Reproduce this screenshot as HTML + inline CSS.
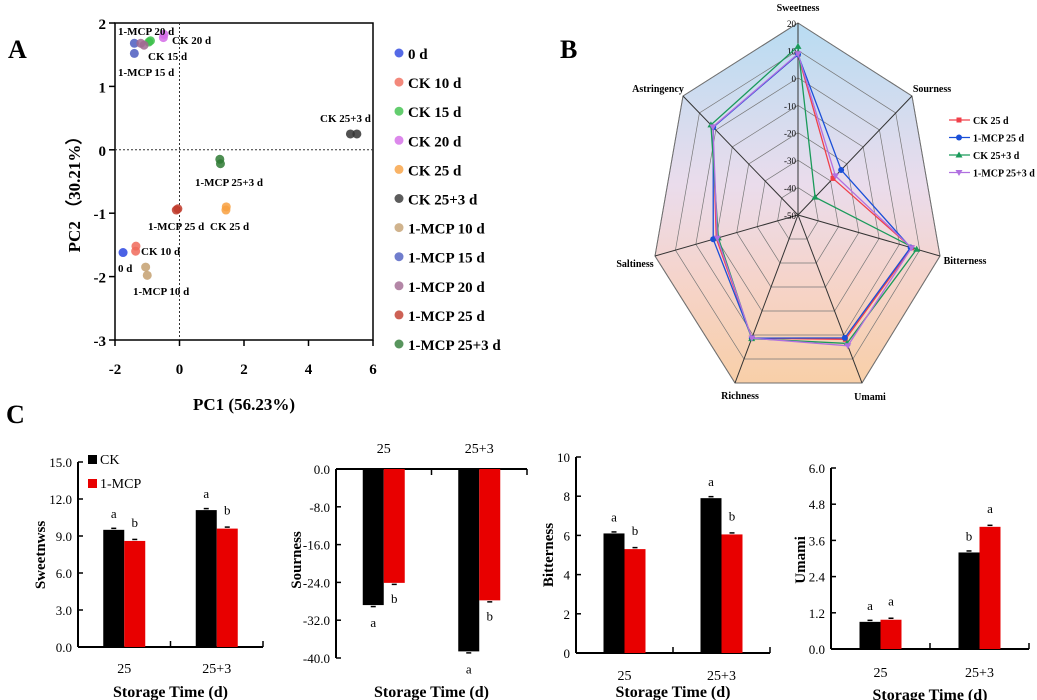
<!DOCTYPE html>
<html><head><meta charset="utf-8"><style>
html,body{margin:0;padding:0;background:#fff;}
svg{display:block;font-family:"Liberation Serif",serif;font-weight:bold;}
</style></head><body>
<svg id="fig" width="1037" height="700" viewBox="0 0 1037 700" xmlns="http://www.w3.org/2000/svg">
<defs>
<linearGradient id="radarBg" x1="0" y1="0" x2="0" y2="1">
<stop offset="0" stop-color="#b8dcf2"/><stop offset="0.45" stop-color="#eadcec"/><stop offset="0.7" stop-color="#f5d4cc"/><stop offset="1" stop-color="#f8cfa8"/>
</linearGradient>
</defs>
<g>
<text x="8" y="58" font-size="26">A</text>
<rect x="115" y="23" width="258" height="317" fill="none" stroke="#000" stroke-width="1.5"/>
<text x="244" y="410" font-size="17" text-anchor="middle">PC1 (56.23%)</text>
<text x="80" y="190" font-size="17" text-anchor="middle" transform="rotate(-90 80 190)">PC2 （30.21%）</text>
<g id="pcaAxes"></g>
<g id="pcaPts"></g>
<g font-size="11">
<text x="118" y="35">1-MCP 20 d</text><text x="172" y="44">CK 20 d</text>
<text x="148" y="60">CK 15 d</text><text x="118" y="76">1-MCP 15 d</text>
<text x="320" y="122">CK 25+3 d</text><text x="195" y="186">1-MCP 25+3 d</text>
<text x="148" y="230">1-MCP 25 d</text><text x="210" y="230">CK 25 d</text>
<text x="141" y="255">CK 10 d</text><text x="118" y="272">0 d</text>
<text x="133" y="295">1-MCP 10 d</text>
</g>
<g id="pcaLegend"></g>
</g>
<g>
<text x="560" y="58" font-size="26">B</text>
<g id="radar"></g>
</g>
<g>
<text x="6" y="423" font-size="26">C</text>
<g id="bars"></g>
</g>
</svg>
<script>
// ---------- PCA data ----------
const pcaGroups = ['0 d','CK 10 d','CK 15 d','CK 20 d','CK 25 d','CK 25+3 d','1-MCP 10 d','1-MCP 15 d','1-MCP 20 d','1-MCP 25 d','1-MCP 25+3 d'];
const pcaX = [[-1.75],[-1.35,-1.36],[-0.9,-0.95],[-0.5,-0.48],[1.45,1.44],[5.3,5.5],[-1.05,-1.0],[-1.4,-1.4],[-1.2,-1.1],[-0.1,-0.05],[1.25,1.27]];
const pcaY = [[-1.62],[-1.52,-1.6],[1.72,1.7],[1.77,1.82],[-0.9,-0.95],[0.25,0.25],[-1.85,-1.98],[1.52,1.68],[1.68,1.65],[-0.95,-0.93],[-0.15,-0.22]];
const pcaColors = ['#2a45e0','#f06a5a','#3cc04a','#d36ae6','#f8a040','#333333','#c4a070','#4c5cc0','#a06890','#c03a2a','#2e7a34'];
const pcaXTicks = [-2,0,2,4,6];
const pcaYTicks = [2,1,0,-1,-2,-3];

// ---------- Radar data ----------
const radarAxes = ['Sweetness','Sourness','Bitterness','Umami','Richness','Saltiness','Astringency'];
const radarSeries = ['CK 25 d','1-MCP 25 d','CK 25+3 d','1-MCP 25+3 d'];
const radarCK25 = [8.5,-28.5,6,1.8,1.3,-10,1.8];
const radarMCP25 = [8.5,-23.5,5.5,1.2,1.3,-8.5,1.6];
const radarCK253 = [11.5,-39.5,8.5,3.5,1.5,-11,3];
const radarMCP253 = [8.8,-27,6,4.5,1.3,-10.5,1.8];
const radarTicks = [20,10,0,-10,-20,-30,-40,-50];

// ---------- Bar data ----------
const barCategories = ['25','25+3'];
const sweetCK = [9.5,11.1], sweetMCP = [8.6,9.6];
const sourCK = [-28.8,-38.6], sourMCP = [-24.1,-27.8];
const bitterCK = [6.1,7.9], bitterMCP = [5.3,6.05];
const umamiCK = [0.9,3.2], umamiMCP = [0.97,4.05];
const sweetTicks = ['0.0','3.0','6.0','9.0','12.0','15.0'];
const sourTicks = ['0.0','-8.0','-16.0','-24.0','-32.0','-40.0'];
const bitterTicks = ['0','2','4','6','8','10'];
const umamiTicks = ['0.0','1.2','2.4','3.6','4.8','6.0'];
const sweetLetters = [['a','b'],['a','b']];
const sourLetters = [['a','b'],['a','b']];
const bitterLetters = [['a','b'],['a','b']];
const umamiLetters = [['a','a'],['b','a']];

const NS='http://www.w3.org/2000/svg';
function mk(tag,attrs,parent,text){const e=document.createElementNS(NS,tag);for(const k in attrs)e.setAttribute(k,attrs[k]);if(text!==undefined)e.textContent=text;parent.appendChild(e);return e;}

// PCA
(function(){
const ax=document.getElementById('pcaAxes'), pg=document.getElementById('pcaPts'), lg=document.getElementById('pcaLegend');
const sx=v=>115+(v+2)/8*258, sy=v=>23+(2-v)/5*317;
pcaXTicks.forEach(t=>{
 const l=mk('line',{x1:sx(t),x2:sx(t),y1:340,y2:346,stroke:'#000','stroke-width':1.5},ax);
 
 
 const tx=mk('text',{x:sx(t),y:374,'font-size':15,'text-anchor':'middle'},ax,String(t));
 
 
});
pcaYTicks.forEach(t=>{
 const l=mk('line',{x1:109,x2:115,y1:sy(t),y2:sy(t),stroke:'#000','stroke-width':1.5},ax);
 
 
 const tx=mk('text',{x:106,y:sy(t)+6,'font-size':15,'text-anchor':'end'},ax,String(t));
 
 
});
const vl=mk('line',{x1:sx(0),x2:sx(0),y1:23,y2:340,stroke:'#333','stroke-dasharray':'2,2'},ax);


const hl=mk('line',{x1:115,x2:373,y1:sy(0),y2:sy(0),stroke:'#333','stroke-dasharray':'2,2'},ax);


pcaGroups.forEach((g,i)=>{
 pcaX[i].forEach((x,j)=>{
  const c=mk('circle',{cx:sx(x),cy:sy(pcaY[i][j]),r:4.5,fill:pcaColors[i],'fill-opacity':0.85},pg);
  
  
 });
 const y=53+i*29.1;
 const d=mk('circle',{cx:399,cy:y,r:4.5,fill:pcaColors[i],'fill-opacity':0.8},lg);
 
 
 const t=mk('text',{x:408,y:y+6,'font-size':15},lg,g);
 
 
});
})();

// Radar
(function(){
const g=document.getElementById('radar');
const cx=798, cy=215;
const dirs=[[0,-192],[114,-119],[142,41],[64,168],[-63,168],[-143,41],[-115,-119]];
const frac=v=>(v+50)/70;
const poly=f=>dirs.map(d=>(cx+d[0]*f)+','+(cy+d[1]*f)).join(' ');
const bg=mk('polygon',{points:poly(1),fill:'url(#radarBg)',stroke:'#555','stroke-width':1},g);


radarTicks.forEach(t=>{
 if(t===-50)return;
 const r=mk('polygon',{points:poly(frac(t)),fill:'none',stroke:'#777','stroke-width':0.7},g);
 
 
});
dirs.forEach((d,i)=>{
 const s=mk('line',{x1:cx,y1:cy,x2:cx+d[0],y2:cy+d[1],stroke:'#333','stroke-width':1},g);
 
 
});
radarTicks.forEach(t=>{
 const tx=mk('text',{x:cx-2,y:cy-192*frac(t)+4,'font-size':9,'text-anchor':'end','font-weight':'normal'},g,String(t));
 
 
});
const lp=[[798,11,'middle'],[932,92,'middle'],[965,264,'middle'],[870,400,'middle'],[740,399,'middle'],[635,267,'middle'],[658,92,'middle']];
radarAxes.forEach((a,i)=>{
 const t=mk('text',{x:lp[i][0],y:lp[i][1],'font-size':10,'text-anchor':lp[i][2]},g,a);
 
 
});
const sets=[radarCK25,radarMCP25,radarCK253,radarMCP253];
const cols=['#f0404a','#1a4fd8','#1a9a5a','#b070e0'];
const shapes=['square','circle','tri','tridown'];
function marker(x,y,shape,col){
 let m;
 if(shape==='square')m=mk('rect',{x:x-2.5,y:y-2.5,width:5,height:5,fill:col},g);
 else if(shape==='circle')m=mk('circle',{cx:x,cy:y,r:3,fill:col},g);
 else if(shape==='tri')m=mk('polygon',{points:`${x},${y-3.5} ${x-3.5},${y+2.5} ${x+3.5},${y+2.5}`,fill:col},g);
 else m=mk('polygon',{points:`${x},${y+3.5} ${x-3.5},${y-2.5} ${x+3.5},${y-2.5}`,fill:col},g);
 return m;
}
sets.forEach((vals,si)=>{
 const pts=vals.map((v,i)=>[cx+dirs[i][0]*frac(v),cy+dirs[i][1]*frac(v)]);
 const p=mk('polygon',{points:pts.map(q=>q.join(',')).join(' '),fill:'none',stroke:cols[si],'stroke-width':1.3},g);
 
 
 pts.forEach(q=>{
  const m=marker(q[0],q[1],shapes[si],cols[si]);
  
  
 });
 const y=120+si*17.5;
 const ll=mk('line',{x1:949,x2:970,y1:y,y2:y,stroke:cols[si],'stroke-width':1.3},g);
 
 
 const lm=marker(959,y,shapes[si],cols[si]);
 
 
 const lt=mk('text',{x:973,y:y+4,'font-size':10},g,radarSeries[si]);
 
 
});
})();

// Bars
(function(){
const g=document.getElementById('bars');
function chart(o){
 const sy=v=>o.y0-(v-o.min)/(o.max-o.min)*(o.y0-o.yTop);
 const zeroY=sy(o.min<0?0:o.min);
 const ya=mk('line',{x1:o.x0,x2:o.x0,y1:o.neg?zeroY:o.yTop,y2:o.neg?o.y0:o.y0,stroke:'#000','stroke-width':2},g);
 
 
 const xa=mk('line',{x1:o.x0,x2:o.x1,y1:zeroY,y2:zeroY,stroke:'#000','stroke-width':2},g);
 
 
 o.ticks.forEach((t,i)=>{
  const v=o.neg?o.max-(o.max-o.min)*i/(o.ticks.length-1):o.min+(o.max-o.min)*i/(o.ticks.length-1);
  const y=sy(v);
  const tl=mk('line',{x1:o.x0,x2:o.x0+5,y1:y,y2:y,stroke:'#000','stroke-width':1.5},g);
  
  
  const tx=mk('text',{x:o.x0-6,y:y+5,'font-size':13,'text-anchor':'end','font-weight':'normal'},g,t);
  
  
 });
 const w=(o.x1-o.x0)/2;
 [o.x0+w,o.x1].forEach(x=>{
  const tk=mk('line',{x1:x,x2:x,y1:zeroY,y2:o.neg?zeroY+6:zeroY-6,stroke:'#000','stroke-width':1.5},g);
  
  
 });
 barCategories.forEach((c,i)=>{
  const cxp=o.x0+(i+0.5)*w;
  [[o.ck,'#000',-21],[o.mcp,'#e80000',0]].forEach((s,k)=>{
   const v=s[0][i], ytop=Math.min(sy(v),zeroY), h=Math.abs(sy(v)-zeroY);
   const b=mk('rect',{x:cxp+s[2],y:ytop,width:21,height:h,fill:s[1]},g);
   
   
   const ey=sy(v)+(o.neg?1.5:-1.5);
   const e=mk('line',{x1:cxp+s[2]+8,x2:cxp+s[2]+13,y1:ey,y2:ey,stroke:'#000','stroke-width':1.5},g);
   
   
   const ly=o.neg?sy(v)+(k===0?22:20):sy(v)-(k===0?12:14);
   const lt=mk('text',{x:cxp+s[2]+10.5,y:ly,'font-size':13,'text-anchor':'middle','font-weight':'normal'},g,o.letters[i][k]);
   
   
  });
  const cl=mk('text',{x:cxp,y:o.catY,'font-size':14,'text-anchor':'middle','font-weight':'normal'},g,c);
  
  
 });
 const xt=mk('text',{x:(o.x0+o.x1)/2,y:o.xtY,'font-size':16,'text-anchor':'middle'},g,'Storage Time (d)');
 
 
 const yt=mk('text',{x:o.ytX,y:o.ytY,'font-size':15,'text-anchor':'middle',transform:`rotate(-90 ${o.ytX} ${o.ytY})`},g,o.ylabel);
 
 
}
chart({x0:78,x1:263,y0:647,yTop:462,min:0,max:15,ticks:sweetTicks,ck:sweetCK,mcp:sweetMCP,letters:sweetLetters,catY:673,xtY:697,ytX:45,ytY:555,ylabel:'Sweetnwss'});
chart({x0:336,x1:527,y0:658,yTop:469,min:-40,max:0,neg:true,ticks:sourTicks,ck:sourCK,mcp:sourMCP,letters:sourLetters,catY:453,xtY:697,ytX:301,ytY:560,ylabel:'Sourness'});
chart({x0:576,x1:770,y0:653,yTop:457,min:0,max:10,ticks:bitterTicks,ck:bitterCK,mcp:bitterMCP,letters:bitterLetters,catY:680,xtY:697,ytX:553,ytY:555,ylabel:'Bitterness'});
chart({x0:831,x1:1029,y0:649,yTop:468,min:0,max:6,ticks:umamiTicks,ck:umamiCK,mcp:umamiMCP,letters:umamiLetters,catY:677,xtY:700,ytX:805,ytY:560,ylabel:'Umami'});
// legend for bar charts
const l1=mk('rect',{x:88,y:455,width:9,height:9,fill:'#000'},g);


const t1=mk('text',{x:100,y:464,'font-size':14,'font-weight':'normal'},g,'CK');


const l2=mk('rect',{x:88,y:479,width:9,height:9,fill:'#e80000'},g);


const t2=mk('text',{x:100,y:488,'font-size':14,'font-weight':'normal'},g,'1-MCP');


})();
</script>
</body></html>
